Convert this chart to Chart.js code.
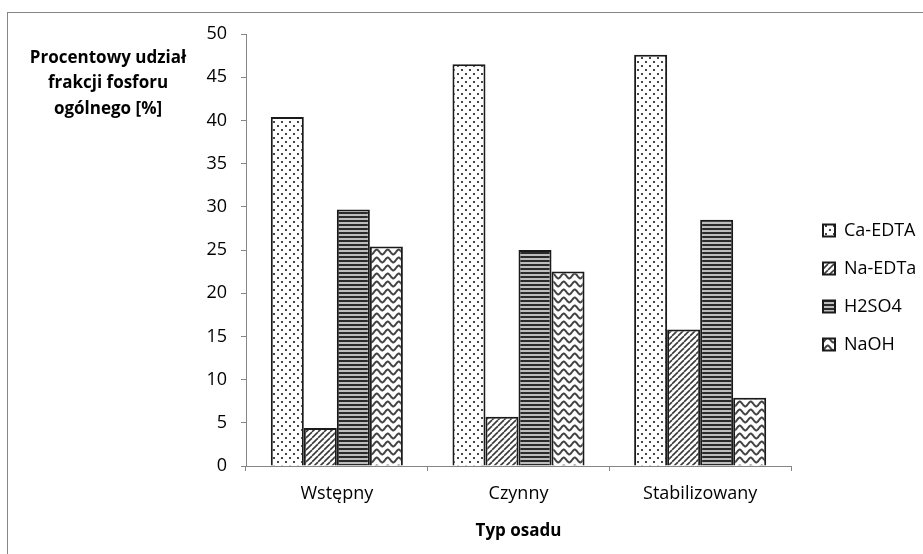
<!DOCTYPE html>
<html>
<head>
<meta charset="utf-8">
<script src="https://cdn.jsdelivr.net/npm/chart.js@4.4.0/dist/chart.umd.min.js"></script>
<style>
  html, body { margin: 0; padding: 0; background: #fff; }
  #chart1 { display: block; }
</style>
</head>
<body>
<canvas id="chart1" width="923" height="554"></canvas>
<script>
const categories = ['Wstępny', 'Czynny', 'Stabilizowany'];
const seriesNames = ['Ca-EDTA', 'Na-EDTa', 'H2SO4', 'NaOH'];
const caEdta = [40.4, 46.5, 47.6];
const naEdta = [4.4, 5.7, 15.8];
const h2so4 = [29.7, 25.0, 28.5];
const naoh = [25.4, 22.5, 7.9];
const yMin = 0;
const yMax = 50;
const yStep = 5;
const yTitleLines = ['Procentowy udział', 'frakcji fosforu', 'ogólnego [%]'];
const xTitle = 'Typ osadu';

// petits motifs noir et blanc comme dans Excel
function makePattern(w, h, draw) {
    var c = document.createElement('canvas');
    c.width = w;
    c.height = h;
    var g = c.getContext('2d');
    g.fillStyle = '#fff';
    g.fillRect(0, 0, w, h);
    draw(g);
    return document.getElementById('chart1').getContext('2d').createPattern(c, 'repeat');
}

function dots() {
    return makePattern(8, 8, function(g) {
        g.fillStyle = '#444';
        g.fillRect(1, 1, 2, 2);
        g.fillRect(5, 5, 2, 2);
    });
}

function diagonal() {
    return makePattern(6, 6, function(g) {
        g.strokeStyle = '#3a3a3a';
        g.lineWidth = 1.6;
        for (var k = -6; k <= 6; k += 6) {
            g.beginPath();
            g.moveTo(k, 6);
            g.lineTo(k + 6, 0);
            g.stroke();
        }
    });
}

function stripes() {
    return makePattern(4, 4, function(g) {
        g.fillStyle = '#2a2a2a';
        g.fillRect(0, 0, 4, 2);
        g.fillStyle = '#bdbdbd';
        g.fillRect(0, 2, 4, 2);
    });
}

function waves() {
    return makePattern(11, 8, function(g) {
        g.strokeStyle = '#444';
        g.lineWidth = 2;
        g.beginPath();
        for (var x = -1; x <= 12; x += 0.5) {
            var y = 4 - 2.4 * Math.sin(2 * Math.PI * x / 11);
            if (x === -1) g.moveTo(x, y); else g.lineTo(x, y);
        }
        g.stroke();
    });
}

// cadre gris + titre de l'axe Y écrit à l'horizontale
const framePlugin = {
    id: 'frame',
    beforeDraw(chart) {
        var ctx = chart.ctx;
        ctx.save();
        ctx.fillStyle = '#fff';
        ctx.fillRect(0, 0, chart.width, chart.height);
        ctx.strokeStyle = '#868686';
        ctx.lineWidth = 1;
        ctx.strokeRect(7.5, 12.5, chart.width + 20, chart.height + 20);
        ctx.restore();
    },
    afterDraw(chart) {
        var ctx = chart.ctx;
        ctx.save();
        ctx.fillStyle = '#000';
        ctx.font = 'bold 17px "Open Sans"';
        ctx.textAlign = 'center';
        ctx.textBaseline = 'alphabetic';
        yTitleLines.forEach(function(line, i) {
            ctx.fillText(line, 108, 63 + i * 25.3);
        });
        ctx.restore();
    }
};

document.addEventListener('DOMContentLoaded', function() {
    Chart.defaults.font.family = '"Open Sans"';
    Chart.defaults.color = '#000';

    var border = '#1a1a1a';
    var ctx = document.getElementById('chart1').getContext('2d');
    var myChart = new Chart(ctx, {
        type: 'bar',
        data: {
            labels: categories,
            datasets: [{
                label: seriesNames[0],
                data: caEdta,
                backgroundColor: dots(),
                borderColor: border,
                borderWidth: 2
            }, {
                label: seriesNames[1],
                data: naEdta,
                backgroundColor: diagonal(),
                borderColor: border,
                borderWidth: 2
            }, {
                label: seriesNames[2],
                data: h2so4,
                backgroundColor: stripes(),
                borderColor: border,
                borderWidth: 2
            }, {
                label: seriesNames[3],
                data: naoh,
                backgroundColor: waves(),
                borderColor: border,
                borderWidth: 2
            }]
        },
        options: {
            responsive: false,
            animation: false,
            devicePixelRatio: 1,
            categoryPercentage: 0.727,
            barPercentage: 1,
            layout: {
                padding: { left: 0, top: 34, right: 0, bottom: 13 }
            },
            plugins: {
                tooltip: { enabled: false },
                legend: {
                    position: 'right',
                    align: 'center',
                    maxWidth: 120,
                    labels: {
                        boxWidth: 12,
                        boxHeight: 12,
                        padding: 20,
                        color: '#000',
                        font: { size: 18 }
                    }
                }
            },
            scales: {
                x: {
                    afterFit: function(s) { s.height = 75; },
                    border: { color: '#868686', width: 1 },
                    grid: {
                        offset: true,
                        drawOnChartArea: false,
                        color: '#868686',
                        tickLength: 5
                    },
                    ticks: { padding: 12, font: { size: 18 } },
                    title: {
                        display: true,
                        text: xTitle,
                        padding: { top: 0, bottom: 0 },
                        font: { size: 17, weight: 'bold' }
                    }
                },
                y: {
                    min: yMin,
                    max: yMax,
                    afterFit: function(s) { s.width = 246; },
                    border: { color: '#868686', width: 1 },
                    grid: {
                        drawOnChartArea: false,
                        color: '#868686',
                        tickLength: 5
                    },
                    ticks: { stepSize: yStep, padding: 14, font: { size: 18 } }
                },
                // espace vide entre la zone du graphique et la légende
                yR: {
                    position: 'right',
                    afterFit: function(s) { s.width = 12; },
                    border: { display: false },
                    grid: { display: false },
                    ticks: { display: false }
                }
            }
        },
        plugins: [framePlugin]
    });
});
</script>
</body>
</html>
